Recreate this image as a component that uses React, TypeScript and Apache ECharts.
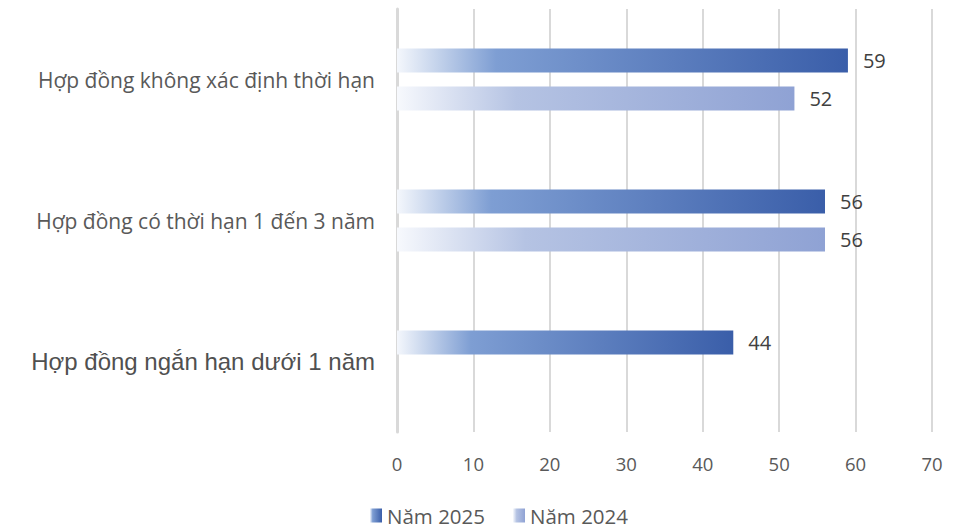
import React, { useEffect, useRef } from "react";
import * as echarts from "echarts";

const categories = [
  "Hợp đồng không xác định thời hạn",
  "Hợp đồng có thời hạn 1 đến 3 năm",
  "Hợp đồng ngắn hạn dưới 1 năm",
];
const seriesNames = ["Năm 2025", "Năm 2024"];
const values2025 = [59, 56, 44];
const values2024: (number | null)[] = [52, 56, null];
const xTicks = [0, 70, 10];

const grad = (stops: [number, string][]) =>
  new echarts.graphic.LinearGradient(
    0,
    0,
    1,
    0,
    stops.map(([offset, color]) => ({ offset, color }))
  );

export default function App() {
  const ref = useRef<HTMLDivElement>(null);
  useEffect(() => {
    if (!ref.current) return;
    const chart = echarts.init(ref.current, undefined, { renderer: "svg" });
    const dark = grad([
      [0, "#f4f7fc"],
      [0.22, "#7e9ed3"],
      [1, "#3a5ea9"],
    ]);
    const light = grad([
      [0, "#f7f9fd"],
      [0.3, "#b5c3e3"],
      [1, "#8fa2d4"],
    ]);
    const labelStyle = {
      show: true,
      position: "right" as const,
      distance: 15,
      color: "#404040",
      fontSize: 20,
      fontFamily: "Open Sans",
    };
    chart.setOption({
      animation: false,
      backgroundColor: "#ffffff",
      grid: { left: 397, right: 26, top: 9, bottom: 100, containLabel: false },
      legend: {
        top: 505,
        left: 370,
        padding: 0,
        itemWidth: 12,
        itemHeight: 14,
        itemGap: 28,
        icon: "rect",
        textStyle: { color: "#595959", fontSize: 20.5, fontFamily: "Open Sans" },
        data: seriesNames,
      },
      xAxis: {
        type: "value",
        min: xTicks[0],
        max: xTicks[1],
        interval: xTicks[2],
        axisLine: { show: false },
        axisTick: { show: false },
        splitLine: { show: true, lineStyle: { color: "#d9d9d9", width: 2 } },
        axisLabel: {
          color: "#595959",
          fontSize: 18.5,
          fontFamily: "Open Sans",
          margin: 22,
        },
      },
      yAxis: {
        type: "category",
        inverse: true,
        data: categories,
        axisLine: { show: true, lineStyle: { color: "#d9d9d9", width: 3 } },
        axisTick: { show: false },
        axisLabel: {
          margin: 22,
          formatter: (v: string, i: number) =>
            i === 2 ? `{b|${v}}` : `{a|${v}}`,
          rich: {
            a: { color: "#595959", fontSize: 21, fontFamily: "Open Sans" },
            b: {
              color: "#505050",
              fontSize: 24,
              fontFamily: "Liberation Sans",
            },
          },
        },
      },
      series: [
        {
          name: seriesNames[0],
          type: "bar",
          data: values2025,
          barWidth: 24,
          barGap: "58%",
          itemStyle: { color: dark },
          label: labelStyle,
        },
        {
          name: seriesNames[1],
          type: "bar",
          data: values2024,
          barWidth: 24,
          barGap: "58%",
          itemStyle: { color: light },
          label: labelStyle,
        },
      ],
    });
    return () => chart.dispose();
  }, []);
  return (
    <div
      ref={ref}
      style={{ position: "fixed", left: 0, top: 0, width: 958, height: 532 }}
    />
  );
}
